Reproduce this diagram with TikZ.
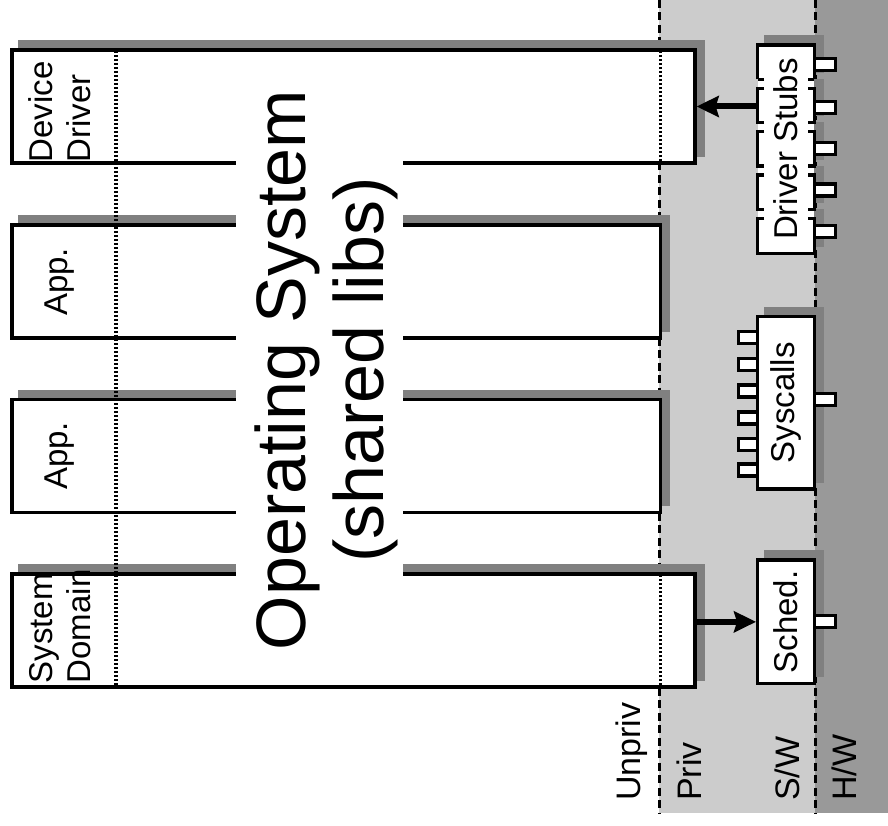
\documentclass[tikz,border=0pt]{standalone}
\usepackage{fontspec}
\setmainfont{Liberation Sans}
\usetikzlibrary{arrows.meta}
\definecolor{lightbg}{HTML}{CCCCCC}
\definecolor{darkbg}{HTML}{999999}
\definecolor{shadowc}{HTML}{808080}
\pgfdeclarelayer{back}
\pgfdeclarelayer{shade}
\pgfsetlayers{back,shade,main}
\begin{document}
\begin{tikzpicture}[x=1pt,y=-1pt,
  box/.style={draw=black, line width=3.4pt, fill=white, inner sep=0pt},
  plainbox/.style={fill=white, inner sep=0pt, outer sep=0pt},
  lbl/.style={font=\fontsize{33}{38}\selectfont, inner sep=0pt, rotate=90},
  botlbl/.style={font=\fontsize{34}{38}\selectfont, inner sep=0pt, rotate=90, anchor=base west},
  bigtext/.style={font=\fontsize{70}{78}\selectfont, inner sep=0pt, rotate=90, anchor=base},
  port/.style={draw=black, line width=3.4pt, fill=white, inner sep=0pt, minimum height=12pt},
  sepline/.style={line width=3pt, dash pattern=on 8pt off 4.5pt},
  dotline/.style={line width=3.4pt, dash pattern=on 2.2pt off 1.8pt},
  arr/.style={line width=6pt, -{Stealth[length=22pt,width=21pt,inset=3pt]}},
  edge/.style={line width=3.4pt, line cap=butt, line join=miter},
]
\useasboundingbox (0,0) rectangle (888,826);

% backgrounds and separators
\begin{pgfonlayer}{back}
  \fill[lightbg] (659,0) rectangle (815,813);
  \fill[darkbg] (815,0) rectangle (888,813);
  \draw[sepline] (659,0) -- (659,813);
  \draw[sepline] (815,0) -- (815,813);
\end{pgfonlayer}

% main boxes
\node[box, minimum width=683pt, minimum height=113pt] (dd) at (353.5,106.5) {};
\node[box, minimum width=648.5pt, minimum height=113pt] (app1) at (336.25,281.5) {};
\node[box, minimum width=648.5pt, minimum height=113pt] (app2) at (336.25,456) {};
\node[box, minimum width=683pt, minimum height=113pt] (sd) at (353.5,630.5) {};

% right-hand boxes
\node[plainbox, minimum width=56.6pt, minimum height=208.3pt] (stubs) at (786,149.15) {};
\node[box, minimum width=56.6pt, minimum height=172.3pt] (sys) at (786,402.8) {};
\node[box, minimum width=56.6pt, minimum height=123.7pt] (sched) at (786,621.85) {};

% shadows
\begin{pgfonlayer}{shade}
  \foreach \n in {dd,app1,app2,sd,sys,sched}
    \fill[shadowc] ([shift={(8,-8)}]\n.south west) rectangle ([shift={(8,-8)}]\n.north east);
  \foreach \t/\b in {45/79.4, 88.4/122.8, 131.8/166.2, 175.2/209.6, 218.6/253.3}
    \fill[shadowc] (764.2,\t-9.5) rectangle (823.8,\b-6.5);
\end{pgfonlayer}

% driver stubs brackets
\draw[edge] (757.7,79.4) -- (757.7,45) -- (814.3,45) -- (814.3,79.4);
\draw[edge] (764,79.4) -- (757.7,79.4);
\draw[edge] (808,79.4) -- (814.3,79.4);
\foreach \t/\b in {88.4/122.8, 131.8/166.2, 175.2/209.6}{
  \draw[edge] (764,\t) -- (757.7,\t) -- (757.7,\b) -- (764,\b);
  \draw[edge] (808,\t) -- (814.3,\t) -- (814.3,\b) -- (808,\b);
}
\draw[edge] (764,218.6) -- (757.7,218.6) -- (757.7,253.3) -- (814.3,253.3) -- (814.3,218.6) -- (808,218.6);

% dotted lines
\draw[dotline] (116,51) -- (116,686);
\draw[dotline] (660.5,51) -- (660.5,162);
\draw[dotline] (660.5,575) -- (660.5,686);

% gap behind the big text
\fill[white] (236,60) rectangle (403,668);
\node[bigtext] (os) at (305,370) {\begin{tabular}[t]{@{}c@{}}Operating System\\(shared libs)\end{tabular}};

% box labels
\node[lbl, anchor=base west] (ddl) at (52,162.5) {\begin{tabular}[t]{@{}l@{}}Device\\Driver\end{tabular}};
\node[lbl, anchor=base west] (sdl) at (52,683.5) {\begin{tabular}[t]{@{}l@{}}System\\Domain\end{tabular}};
\node[lbl, anchor=base] (a1l) at (67,282) {App.};
\node[lbl, anchor=base] (a2l) at (67,456) {App.};
\node[lbl] (stubsl) at (stubs.center) {Driver Stubs};
\node[lbl] (sysl) at (sys.center) {Syscalls};
\node[lbl] (schedl) at (sched.center) {Sched.};

% ports
\foreach \y [count=\i] in {64.5,107.5,148.5,190,231.5}
  \node[port, minimum width=21pt] (sp\i) at (825,\y) {};
\foreach \y [count=\i] in {337.5,364.5,391,418,444.5,470}
  \node[port, minimum width=19pt] (sl\i) at (748.2,\y) {};
\node[port, minimum width=21pt] (sr) at (825,399.5) {};
\node[port, minimum width=21pt] (schp) at (825,621.5) {};

% arrows
\draw[arr] (stubs.west |- dd.east) -- (dd.east);
\draw[arr] (sd.east |- sched.west) -- (sched.west);

% bottom labels
\node[botlbl] (unpriv) at (640,801) {Unpriv};
\node[botlbl] (priv) at (701,801) {Priv};
\node[botlbl] (sw) at (799,801) {S/W};
\node[botlbl] (hw) at (856,801) {H/W};
\end{tikzpicture}
\end{document}
